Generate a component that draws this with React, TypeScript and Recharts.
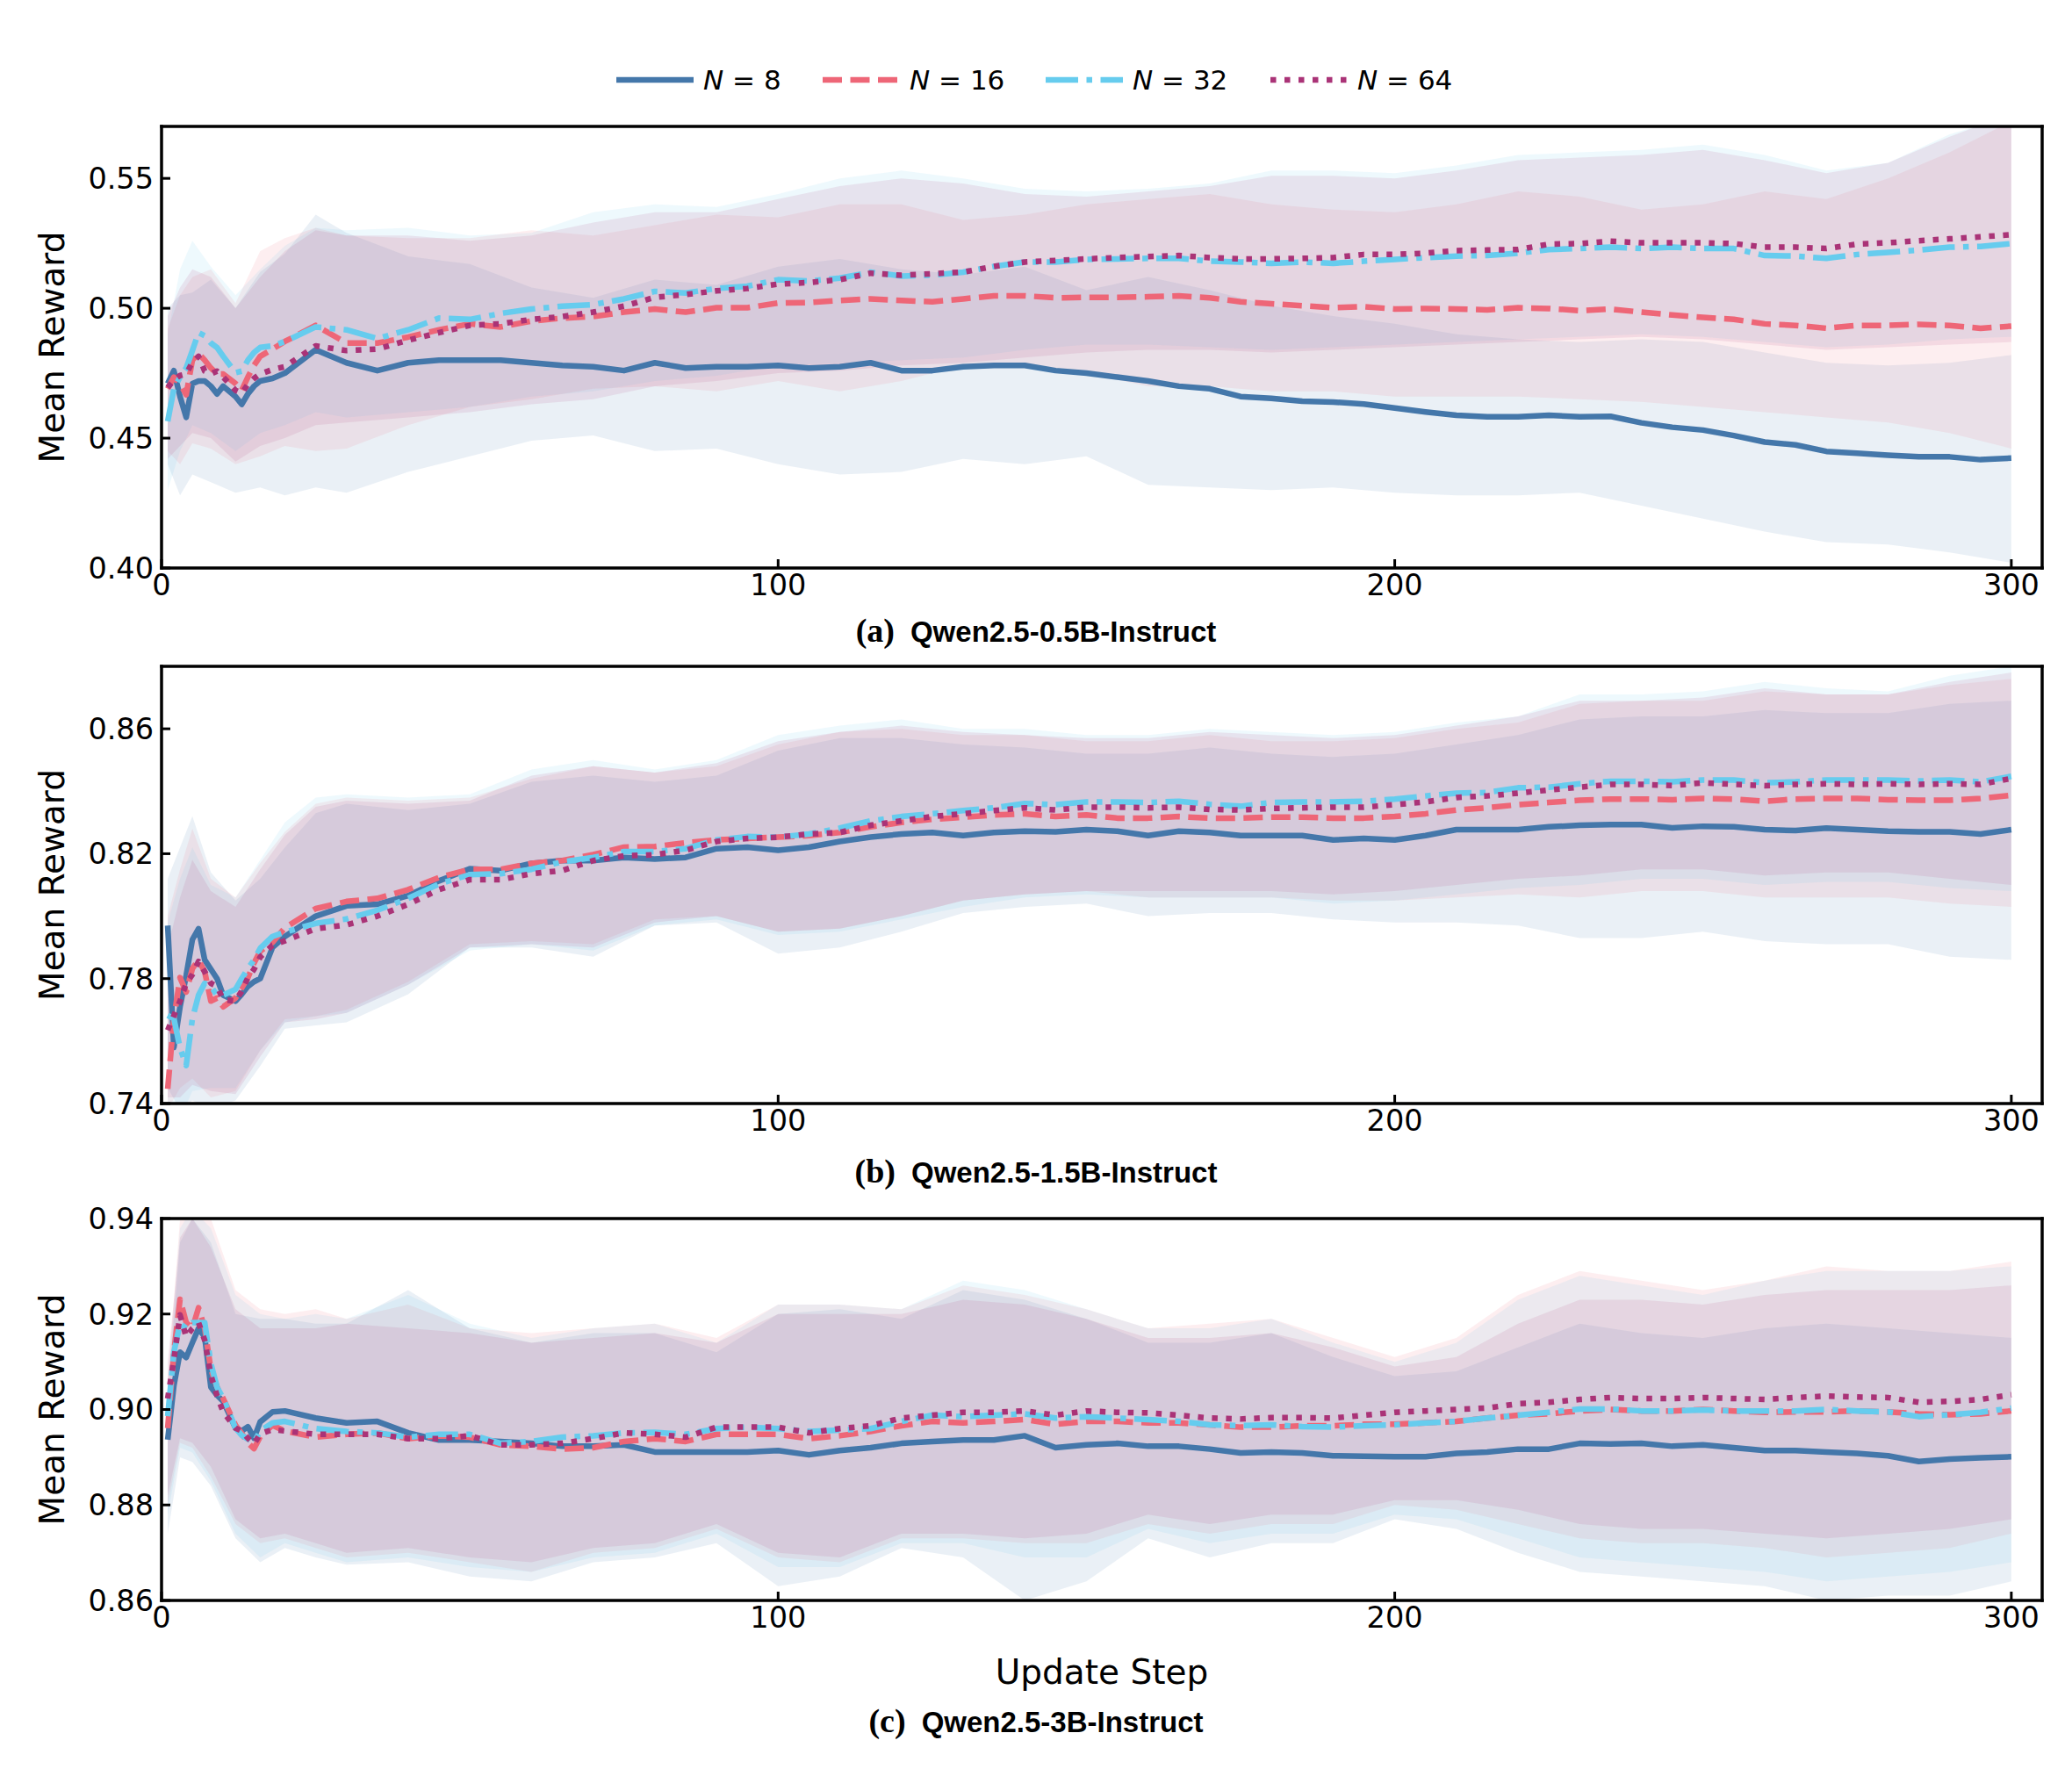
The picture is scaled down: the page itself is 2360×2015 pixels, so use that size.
import { ComposedChart, Line, Area, XAxis, YAxis } from 'recharts';

// update steps where the mean curves are sampled
const STEPS = [
  1, 2, 3, 4, 5, 6, 7, 8, 9, 10, 12, 13, 14, 15, 16, 18,
  20, 25, 30, 35, 40, 45, 50, 55, 60, 65, 70, 75, 80, 85, 90, 95, 100, 105, 110, 115,
  120, 125, 130, 135, 140, 145, 150, 155, 160, 165, 170, 175, 180, 185, 190, 195,
  200, 205, 210, 215, 220, 225, 230, 235, 240, 245, 250, 255, 260, 265, 270, 275,
  280, 285, 290, 295, 300,
];
// update steps where the shaded bands are sampled
const BAND_STEPS = [
  1, 3, 5, 8, 12, 16, 20, 25, 30,
  40, 50, 60, 70, 80, 90, 100, 110, 120, 130,
  140, 150, 160, 170, 180, 190, 200, 210, 220, 230,
  240, 250, 260, 270, 280, 290, 300,
];
const X_TICKS = [0, 100, 200, 300];
const LEGEND_LABELS = ['8', '16', '32', '64'];

// (a) Qwen2.5-0.5B-Instruct
const A_TICKS = [0.4, 0.45, 0.5, 0.55];
const A8 = [
  0.471, 0.476, 0.466, 0.458, 0.471, 0.472, 0.472, 0.470, 0.467, 0.470,
  0.466, 0.463, 0.467, 0.470, 0.472, 0.473,
  0.475, 0.484, 0.479, 0.476, 0.479, 0.480, 0.480, 0.480, 0.479, 0.478,
  0.4775, 0.476, 0.479, 0.477, 0.4775, 0.4775, 0.478, 0.477, 0.4775, 0.479,
  0.476, 0.476, 0.4775, 0.478, 0.478, 0.476, 0.475, 0.4735, 0.472, 0.470,
  0.469, 0.466, 0.4653, 0.4642, 0.4639, 0.4631, 0.4616, 0.4601, 0.4588, 0.4582,
  0.4582, 0.4588, 0.4582, 0.4584, 0.4559, 0.4542, 0.4531, 0.451, 0.4485, 0.4474,
  0.4449, 0.4442, 0.4434, 0.4428, 0.4428, 0.4417, 0.4423,
];
const A16 = [
  0.469, 0.4735, 0.471, 0.4667, 0.480, 0.4826, 0.480, 0.477, 0.4747, 0.4747,
  0.471, 0.4684, 0.4735, 0.478, 0.4815, 0.4843,
  0.4872, 0.4934, 0.4866, 0.4866, 0.4889, 0.4917, 0.494, 0.4928, 0.4951, 0.4962,
  0.4968, 0.4985, 0.4997, 0.4985, 0.5002, 0.5002, 0.502, 0.5022, 0.503, 0.5036,
  0.503, 0.5025, 0.5036, 0.5048, 0.5048, 0.504, 0.5042, 0.5042, 0.5044, 0.5048,
  0.504, 0.5025, 0.5017, 0.501, 0.5002, 0.5006, 0.4997, 0.4999, 0.4997, 0.4994,
  0.5002, 0.4999, 0.4991, 0.4997, 0.4985, 0.4974, 0.4965, 0.4957, 0.494, 0.4934,
  0.4923, 0.4934, 0.4934, 0.4938, 0.4934, 0.4923, 0.4931,
];
const A32 = [
  0.4565, 0.469, 0.4735, 0.477, 0.4837, 0.4906, 0.4894, 0.4866, 0.4849, 0.4815,
  0.4752, 0.4758, 0.480, 0.483, 0.4849, 0.4855,
  0.4872, 0.4928, 0.4917, 0.4883, 0.4917, 0.4962, 0.4957, 0.498, 0.4997, 0.5008,
  0.5014, 0.5036, 0.5065, 0.5059, 0.5076, 0.5085, 0.511, 0.5105, 0.5116, 0.5139,
  0.5124, 0.5127, 0.5139, 0.5161, 0.5178, 0.5178, 0.5188, 0.519, 0.5192, 0.5192,
  0.5181, 0.5178, 0.5173, 0.5178, 0.5173, 0.5181, 0.5188, 0.5195, 0.5201, 0.5203,
  0.5212, 0.5226, 0.523, 0.5235, 0.523, 0.5235, 0.523, 0.523, 0.5203, 0.5201,
  0.5192, 0.5207, 0.5215, 0.5224, 0.5235, 0.5238, 0.5249,
];
const A64 = [
  0.4695, 0.4724, 0.4741, 0.4747, 0.4792, 0.4815, 0.4758, 0.4747, 0.4758, 0.4735,
  0.4684, 0.4673, 0.4707, 0.473, 0.4747, 0.4764,
  0.4775, 0.4855, 0.4837, 0.4843, 0.4877, 0.4906, 0.4934, 0.494, 0.4957, 0.4968,
  0.4985, 0.5008, 0.5042, 0.5053, 0.5067, 0.5076, 0.5093, 0.5099, 0.511, 0.5135,
  0.5127, 0.5133, 0.5139, 0.5161, 0.5178, 0.5184, 0.519, 0.5195, 0.5199, 0.5203,
  0.5195, 0.519, 0.519, 0.5192, 0.5195, 0.5207, 0.5207, 0.5212, 0.5222, 0.5224,
  0.5226, 0.5247, 0.5249, 0.5258, 0.5252, 0.5252, 0.5252, 0.5249, 0.5235, 0.5235,
  0.523, 0.5247, 0.5252, 0.526, 0.5267, 0.5275, 0.5283,
];
const A8_LO = [
  0.440, 0.428, 0.436, 0.433, 0.429, 0.431, 0.428, 0.431, 0.429,
  0.437, 0.443, 0.449, 0.451, 0.445, 0.446, 0.440, 0.436, 0.437, 0.442,
  0.440, 0.443, 0.432, 0.431, 0.430, 0.431, 0.429, 0.428, 0.428, 0.429,
  0.424, 0.419, 0.414, 0.410, 0.409, 0.406, 0.402,
];
const A8_HI = [
  0.500, 0.505, 0.506, 0.511, 0.500, 0.514, 0.521, 0.536, 0.529,
  0.520, 0.517, 0.508, 0.504, 0.511, 0.509, 0.516, 0.519, 0.515, 0.513,
  0.516, 0.507, 0.512, 0.507, 0.501, 0.497, 0.494, 0.490, 0.488, 0.487,
  0.488, 0.487, 0.483, 0.479, 0.478, 0.479, 0.482,
];
const A16_LO = [
  0.445, 0.440, 0.448, 0.446, 0.440, 0.443, 0.447, 0.445, 0.446,
  0.455, 0.462, 0.465, 0.469, 0.470, 0.468, 0.472, 0.468, 0.472, 0.478,
  0.478, 0.475, 0.470, 0.470, 0.468, 0.468, 0.466, 0.466, 0.466, 0.465,
  0.464, 0.462, 0.460, 0.458, 0.456, 0.452, 0.446,
];
const A16_HI = [
  0.492, 0.505, 0.512, 0.515, 0.502, 0.522, 0.527, 0.531, 0.528,
  0.527, 0.527, 0.530, 0.528, 0.532, 0.536, 0.535, 0.540, 0.540, 0.534,
  0.536, 0.540, 0.542, 0.544, 0.540, 0.538, 0.537, 0.540, 0.545, 0.543,
  0.538, 0.540, 0.545, 0.542, 0.550, 0.560, 0.572,
];
const A32_LO = [
  0.430, 0.445, 0.455, 0.452, 0.445, 0.452, 0.455, 0.460, 0.458,
  0.460, 0.462, 0.466, 0.468, 0.472, 0.474, 0.478, 0.479, 0.480, 0.481,
  0.484, 0.486, 0.486, 0.485, 0.484, 0.485, 0.486, 0.487, 0.488, 0.489,
  0.490, 0.489, 0.487, 0.485, 0.486, 0.488, 0.489,
];
const A32_HI = [
  0.490, 0.515, 0.526, 0.516, 0.505, 0.515, 0.524, 0.531, 0.530,
  0.531, 0.528, 0.529, 0.537, 0.540, 0.539, 0.544, 0.550, 0.553, 0.550,
  0.546, 0.545, 0.546, 0.548, 0.553, 0.553, 0.552, 0.555, 0.559, 0.560,
  0.561, 0.563, 0.559, 0.553, 0.556, 0.567, 0.574,
];
const A64_LO = [
  0.442, 0.447, 0.452, 0.450, 0.441, 0.447, 0.450, 0.455, 0.456,
  0.458, 0.460, 0.463, 0.465, 0.470, 0.472, 0.475, 0.476, 0.478, 0.479,
  0.481, 0.483, 0.484, 0.484, 0.483, 0.484, 0.485, 0.486, 0.487, 0.488,
  0.489, 0.488, 0.486, 0.484, 0.485, 0.486, 0.487,
];
const A64_HI = [
  0.497, 0.508, 0.515, 0.512, 0.500, 0.512, 0.522, 0.530, 0.528,
  0.528, 0.526, 0.528, 0.533, 0.537, 0.537, 0.542, 0.547, 0.550, 0.548,
  0.544, 0.543, 0.545, 0.547, 0.551, 0.551, 0.550, 0.553, 0.557, 0.558,
  0.559, 0.561, 0.557, 0.552, 0.556, 0.566, 0.575,
];

// (b) Qwen2.5-1.5B-Instruct
const B_TICKS = [0.74, 0.78, 0.82, 0.86];
const B8 = [
  0.797, 0.758, 0.771, 0.781, 0.7925, 0.796, 0.786, 0.783, 0.780, 0.7747,
  0.7728, 0.775, 0.7775, 0.779, 0.780, 0.790,
  0.7935, 0.800, 0.8033, 0.8038, 0.8066, 0.8113, 0.8152, 0.8146, 0.8169, 0.8178,
  0.8178, 0.8188, 0.8183, 0.8188, 0.8216, 0.8221, 0.8211, 0.8221, 0.8239, 0.8253,
  0.8263, 0.8268, 0.8258, 0.8268, 0.8272, 0.827, 0.8277, 0.8272, 0.8258, 0.8272,
  0.8268, 0.8258, 0.8258, 0.8258, 0.8244, 0.8249, 0.8244, 0.8258, 0.8277, 0.8277,
  0.8277, 0.8286, 0.8291, 0.8293, 0.8293, 0.8283, 0.8288, 0.8286, 0.8277, 0.8274,
  0.8282, 0.8277, 0.8272, 0.827, 0.827, 0.8263, 0.8277,
];
const B16 = [
  0.7447, 0.7672, 0.7803, 0.7757, 0.7832, 0.786, 0.7822, 0.7728, 0.7738, 0.771,
  0.7738, 0.777, 0.7803, 0.785, 0.7888, 0.7916,
  0.7963, 0.8024, 0.8047, 0.8057, 0.8085, 0.8124, 0.815, 0.815, 0.8169, 0.8178,
  0.8197, 0.8221, 0.8223, 0.8235, 0.8244, 0.8249, 0.8253, 0.8258, 0.8268, 0.8286,
  0.830, 0.831, 0.8317, 0.8324, 0.8328, 0.8319, 0.8324, 0.8314, 0.8314, 0.8319,
  0.8314, 0.8314, 0.8317, 0.8317, 0.8314, 0.8314, 0.8319, 0.8328, 0.834, 0.8347,
  0.8357, 0.8364, 0.8371, 0.8375, 0.8375, 0.8373, 0.8377, 0.8375, 0.8368, 0.8375,
  0.8377, 0.8377, 0.8373, 0.8371, 0.8371, 0.8377, 0.8387,
];
const B32 = [
  0.7682, 0.7672, 0.7578, 0.7522, 0.7672, 0.7747, 0.7785, 0.7775, 0.7747, 0.7747,
  0.7766, 0.780, 0.7832, 0.786, 0.7897, 0.7935,
  0.7949, 0.7977, 0.7991, 0.8019, 0.8057, 0.8103, 0.8133, 0.8136, 0.815, 0.8174,
  0.8188, 0.8207, 0.8207, 0.8216, 0.8244, 0.8255, 0.8253, 0.8263, 0.8282, 0.8305,
  0.8319, 0.8328, 0.8338, 0.8347, 0.8361, 0.8357, 0.8366, 0.8366, 0.8364, 0.8368,
  0.8358, 0.8352, 0.8364, 0.8366, 0.8366, 0.8368, 0.8375, 0.8385, 0.8394, 0.8396,
  0.8411, 0.8413, 0.8424, 0.8432, 0.8432, 0.843, 0.8436, 0.8436, 0.8427, 0.843,
  0.8436, 0.8436, 0.8436, 0.8433, 0.8436, 0.843, 0.8448,
];
const B64 = [
  0.7635, 0.7682, 0.7728, 0.7785, 0.7813, 0.7855, 0.7822, 0.7785, 0.7775, 0.7733,
  0.7728, 0.776, 0.7803, 0.783, 0.7869, 0.7907,
  0.7921, 0.796, 0.7972, 0.800, 0.8038, 0.8085, 0.8117, 0.8117, 0.8136, 0.8146,
  0.8178, 0.8193, 0.8197, 0.8211, 0.8239, 0.8249, 0.8253, 0.8263, 0.8268, 0.8291,
  0.8305, 0.8319, 0.8328, 0.8338, 0.8347, 0.834, 0.8349, 0.8349, 0.8347, 0.8349,
  0.8342, 0.834, 0.8345, 0.8347, 0.8349, 0.8349, 0.8357, 0.8366, 0.838, 0.8385,
  0.8394, 0.8404, 0.8413, 0.8422, 0.8422, 0.8418, 0.8427, 0.8422, 0.8418, 0.8422,
  0.8424, 0.8422, 0.8424, 0.8422, 0.8424, 0.8422, 0.8441,
];
const B8_LO = [
  0.745, 0.738, 0.741, 0.738, 0.741, 0.752, 0.764, 0.765, 0.766,
  0.775, 0.790, 0.790, 0.787, 0.797, 0.798, 0.788, 0.790, 0.795, 0.801,
  0.803, 0.804, 0.800, 0.801, 0.801, 0.799, 0.798, 0.798, 0.797, 0.793,
  0.793, 0.795, 0.792, 0.791, 0.791, 0.787, 0.786,
];
const B8_HI = [
  0.812, 0.822, 0.832, 0.814, 0.805, 0.812, 0.822, 0.833, 0.836,
  0.834, 0.836, 0.843, 0.845, 0.843, 0.845, 0.853, 0.857, 0.857, 0.855,
  0.854, 0.852, 0.852, 0.854, 0.852, 0.851, 0.852, 0.855, 0.858, 0.863,
  0.864, 0.864, 0.866, 0.865, 0.865, 0.868, 0.869,
];
const B16_LO = [
  0.738, 0.745, 0.748, 0.742, 0.744, 0.757, 0.767, 0.768, 0.770,
  0.779, 0.791, 0.792, 0.791, 0.799, 0.800, 0.795, 0.796, 0.800, 0.805,
  0.807, 0.808, 0.806, 0.806, 0.806, 0.805, 0.805, 0.806, 0.807, 0.806,
  0.808, 0.808, 0.806, 0.806, 0.806, 0.804, 0.803,
];
const B16_HI = [
  0.800, 0.815, 0.828, 0.812, 0.806, 0.817, 0.827, 0.836, 0.838,
  0.837, 0.838, 0.844, 0.848, 0.846, 0.848, 0.855, 0.859, 0.860, 0.858,
  0.858, 0.856, 0.856, 0.858, 0.856, 0.856, 0.857, 0.860, 0.862, 0.868,
  0.869, 0.869, 0.872, 0.871, 0.871, 0.874, 0.876,
];
const B32_LO = [
  0.740, 0.735, 0.744, 0.745, 0.745, 0.757, 0.766, 0.768, 0.769,
  0.778, 0.789, 0.791, 0.789, 0.797, 0.799, 0.794, 0.795, 0.799, 0.803,
  0.806, 0.807, 0.806, 0.806, 0.806, 0.804, 0.805, 0.807, 0.809, 0.810,
  0.812, 0.812, 0.810, 0.811, 0.811, 0.809, 0.808,
];
const B32_HI = [
  0.798, 0.812, 0.822, 0.810, 0.806, 0.818, 0.830, 0.838, 0.839,
  0.838, 0.839, 0.847, 0.850, 0.847, 0.850, 0.858, 0.861, 0.863, 0.860,
  0.860, 0.858, 0.858, 0.860, 0.859, 0.858, 0.859, 0.862, 0.864, 0.871,
  0.871, 0.872, 0.875, 0.873, 0.872, 0.877, 0.880,
];
const B64_LO = [
  0.742, 0.742, 0.746, 0.744, 0.743, 0.755, 0.766, 0.767, 0.769,
  0.778, 0.790, 0.791, 0.790, 0.798, 0.800, 0.795, 0.796, 0.800, 0.805,
  0.807, 0.808, 0.808, 0.808, 0.808, 0.807, 0.808, 0.810, 0.812, 0.813,
  0.815, 0.815, 0.813, 0.814, 0.814, 0.812, 0.810,
];
const B64_HI = [
  0.790, 0.806, 0.818, 0.808, 0.803, 0.815, 0.826, 0.835, 0.837,
  0.836, 0.837, 0.845, 0.848, 0.846, 0.849, 0.856, 0.859, 0.861, 0.859,
  0.858, 0.857, 0.857, 0.859, 0.858, 0.857, 0.858, 0.861, 0.864, 0.869,
  0.869, 0.870, 0.873, 0.871, 0.871, 0.875, 0.878,
];

// (c) Qwen2.5-3B-Instruct
const C_TICKS = [0.86, 0.88, 0.9, 0.92, 0.94];
const C8 = [
  0.8937, 0.905, 0.912, 0.9109, 0.914, 0.917, 0.9152, 0.9047, 0.903, 0.9017,
  0.8961, 0.8955, 0.8964, 0.894, 0.8974, 0.8995,
  0.8997, 0.8982, 0.8972, 0.8975, 0.8951, 0.8936, 0.8936, 0.8933, 0.8929, 0.8923,
  0.8923, 0.8926, 0.8911, 0.8911, 0.8911, 0.8911, 0.8914, 0.8905, 0.8914, 0.892,
  0.8929, 0.8933, 0.8936, 0.8936, 0.8945, 0.892, 0.8926, 0.8929, 0.8923, 0.8923,
  0.8917, 0.8909, 0.8911, 0.8909, 0.8903, 0.8902, 0.8901, 0.8901, 0.8908, 0.8911,
  0.8917, 0.8917, 0.8929, 0.8928, 0.8929, 0.8923, 0.8926, 0.892, 0.8914, 0.8914,
  0.8911, 0.8908, 0.8903, 0.8891, 0.8896, 0.8899, 0.8901,
];
const C16 = [
  0.8961, 0.912, 0.9231, 0.9182, 0.917, 0.9213, 0.917, 0.9084, 0.9047, 0.9023,
  0.8967, 0.895, 0.893, 0.8918, 0.8943, 0.8967,
  0.8955, 0.8942, 0.8948, 0.8951, 0.8939, 0.8945, 0.8942, 0.8926, 0.8923, 0.8917,
  0.892, 0.8933, 0.8939, 0.8933, 0.8948, 0.8948, 0.8948, 0.8939, 0.8945, 0.8954,
  0.8966, 0.8975, 0.8972, 0.8975, 0.8979, 0.8969, 0.8975, 0.8975, 0.8972, 0.8972,
  0.8968, 0.8963, 0.8963, 0.8966, 0.8966, 0.8969, 0.8969, 0.8972, 0.8975, 0.8982,
  0.8988, 0.8991, 0.8997, 0.900, 0.8997, 0.8997, 0.900, 0.8997, 0.8994, 0.8995,
  0.8995, 0.8997, 0.8995, 0.8991, 0.8989, 0.8991, 0.8997,
];
const C32 = [
  0.8986, 0.912, 0.918, 0.917, 0.9182, 0.9182, 0.9182, 0.9096, 0.9047, 0.9023,
  0.8961, 0.8946, 0.8938, 0.8931, 0.8955, 0.8972,
  0.8975, 0.896, 0.8954, 0.8951, 0.8942, 0.8948, 0.8948, 0.8929, 0.8933, 0.8942,
  0.8945, 0.8951, 0.8952, 0.8948, 0.896, 0.8963, 0.896, 0.8954, 0.8957, 0.896,
  0.8975, 0.8988, 0.8985, 0.8988, 0.8991, 0.8982, 0.8985, 0.8982, 0.8979, 0.8975,
  0.8968, 0.8966, 0.8968, 0.8964, 0.8963, 0.8966, 0.8968, 0.8972, 0.8975, 0.8982,
  0.8988, 0.8994, 0.9001, 0.9001, 0.8997, 0.8997, 0.8999, 0.8997, 0.8997, 0.8997,
  0.900, 0.8997, 0.8995, 0.8985, 0.8989, 0.8994, 0.9003,
];
const C64 = [
  0.9023, 0.9105, 0.9198, 0.9152, 0.917, 0.9182, 0.9145, 0.9072, 0.9029, 0.8995,
  0.8961, 0.8955, 0.894, 0.8928, 0.8949, 0.8958,
  0.8955, 0.8948, 0.8948, 0.8948, 0.8939, 0.8939, 0.8945, 0.8926, 0.8926, 0.8929,
  0.8939, 0.8951, 0.8948, 0.8942, 0.8963, 0.8963, 0.8963, 0.8951, 0.896, 0.8966,
  0.8982, 0.8988, 0.8994, 0.8994, 0.8997, 0.8988, 0.8997, 0.8994, 0.8993, 0.8988,
  0.8982, 0.898, 0.8983, 0.8983, 0.8982, 0.8988, 0.8994, 0.8997, 0.900, 0.9003,
  0.9012, 0.9015, 0.9021, 0.9025, 0.9023, 0.9023, 0.9025, 0.9023, 0.9021, 0.9025,
  0.9028, 0.9026, 0.9025, 0.9015, 0.9017, 0.9021, 0.9031,
];
const C8_LO = [
  0.874, 0.890, 0.889, 0.884, 0.873, 0.868, 0.871, 0.869, 0.8675,
  0.868, 0.865, 0.864, 0.868, 0.869, 0.872, 0.863, 0.865, 0.871, 0.869,
  0.860, 0.864, 0.873, 0.869, 0.872, 0.872, 0.877, 0.875, 0.870, 0.866,
  0.865, 0.864, 0.863, 0.860, 0.861, 0.861, 0.864,
];
const C8_HI = [
  0.903, 0.935, 0.940, 0.935, 0.920, 0.919, 0.919, 0.918, 0.918,
  0.925, 0.917, 0.914, 0.916, 0.916, 0.912, 0.920, 0.921, 0.919, 0.925,
  0.923, 0.919, 0.914, 0.914, 0.916, 0.911, 0.907, 0.908, 0.913, 0.918,
  0.916, 0.915, 0.917, 0.918, 0.917, 0.916, 0.915,
];
const C16_LO = [
  0.880, 0.893, 0.892, 0.886, 0.876, 0.872, 0.873, 0.871, 0.869,
  0.870, 0.868, 0.866, 0.870, 0.871, 0.875, 0.869, 0.868, 0.873, 0.873,
  0.872, 0.872, 0.876, 0.874, 0.876, 0.876, 0.880, 0.879, 0.876, 0.873,
  0.872, 0.872, 0.871, 0.869, 0.870, 0.871, 0.874,
];
const C16_HI = [
  0.906, 0.940, 0.942, 0.940, 0.925, 0.921, 0.920, 0.921, 0.919,
  0.922, 0.917, 0.916, 0.917, 0.918, 0.915, 0.922, 0.922, 0.921, 0.926,
  0.924, 0.921, 0.917, 0.918, 0.919, 0.915, 0.911, 0.915, 0.924, 0.929,
  0.927, 0.925, 0.927, 0.930, 0.929, 0.929, 0.931,
];
const C32_LO = [
  0.878, 0.892, 0.891, 0.885, 0.874, 0.869, 0.872, 0.870, 0.868,
  0.869, 0.867, 0.866, 0.869, 0.870, 0.874, 0.867, 0.867, 0.872, 0.872,
  0.869, 0.869, 0.875, 0.872, 0.874, 0.874, 0.878, 0.877, 0.873, 0.869,
  0.868, 0.867, 0.866, 0.864, 0.865, 0.866, 0.868,
];
const C32_HI = [
  0.905, 0.938, 0.942, 0.938, 0.924, 0.920, 0.919, 0.920, 0.919,
  0.924, 0.918, 0.915, 0.917, 0.918, 0.914, 0.922, 0.922, 0.921, 0.927,
  0.925, 0.921, 0.917, 0.917, 0.919, 0.914, 0.910, 0.914, 0.923, 0.928,
  0.926, 0.924, 0.927, 0.929, 0.929, 0.929, 0.930,
];
const C64_LO = [
  0.882, 0.894, 0.893, 0.888, 0.877, 0.873, 0.874, 0.872, 0.870,
  0.871, 0.869, 0.868, 0.871, 0.872, 0.876, 0.870, 0.869, 0.874, 0.874,
  0.873, 0.874, 0.878, 0.876, 0.878, 0.878, 0.881, 0.881, 0.879, 0.876,
  0.875, 0.875, 0.874, 0.873, 0.874, 0.875, 0.877,
];
const C64_HI = [
  0.910, 0.936, 0.940, 0.934, 0.921, 0.917, 0.917, 0.917, 0.918,
  0.917, 0.916, 0.914, 0.915, 0.916, 0.914, 0.920, 0.920, 0.920, 0.923,
  0.922, 0.919, 0.915, 0.915, 0.916, 0.913, 0.909, 0.911, 0.918, 0.923,
  0.923, 0.922, 0.924, 0.925, 0.925, 0.925, 0.926,
];

const KEYS = ['n8', 'n16', 'n32', 'n64'];
const COLORS = ['#4477AA', '#EE6677', '#66CCEE', '#AA3377'];
const DASHES = [undefined, '22 9.5', '37 9.5 6.5 9.5', '6.5 9.5'];
const LW = 6.5;

const PANELS = [
  {
    lines: [A8, A16, A32, A64],
    bands: [[A8_LO, A8_HI], [A16_LO, A16_HI], [A32_LO, A32_HI], [A64_LO, A64_HI]],
    domain: [0.4, 0.57], ticks: A_TICKS, top: 144, bottom: 647,
    tag: '(a)', title: 'Qwen2.5-0.5B-Instruct', captionY: 731,
  },
  {
    lines: [B8, B16, B32, B64],
    bands: [[B8_LO, B8_HI], [B16_LO, B16_HI], [B32_LO, B32_HI], [B64_LO, B64_HI]],
    domain: [0.74, 0.88], ticks: B_TICKS, top: 759, bottom: 1257,
    tag: '(b)', title: 'Qwen2.5-1.5B-Instruct', captionY: 1347,
  },
  {
    lines: [C8, C16, C32, C64],
    bands: [[C8_LO, C8_HI], [C16_LO, C16_HI], [C32_LO, C32_HI], [C64_LO, C64_HI]],
    domain: [0.86, 0.94], ticks: C_TICKS, top: 1388, bottom: 1823,
    tag: '(c)', title: 'Qwen2.5-3B-Instruct', captionY: 1973,
  },
];

const FONT = 'DejaVu Sans';
const AXIS_LINE = { stroke: '#000', strokeWidth: 3.5, strokeLinecap: 'square' };
const TICK_LINE = { stroke: '#000', strokeWidth: 3 };
const TICK_TEXT = { fill: '#000', fontSize: 33.5, fontFamily: FONT };

function buildRows(lines: number[][], bands: number[][][]) {
  return STEPS.map((step, i) => {
    const row: Record<string, any> = { step };
    const j = BAND_STEPS.indexOf(step);
    KEYS.forEach((key, s) => {
      row[key] = lines[s][i];
      if (j >= 0) row['band_' + key] = [bands[s][0][j], bands[s][1][j]];
    });
    return row;
  });
}

function Panel({ cfg }: { cfg: any }) {
  const rows = buildRows(cfg.lines, cfg.bands);
  const plotH = cfg.bottom - cfg.top;
  return (
    <div style={{ position: 'absolute', left: 0, top: cfg.top - 20 }}>
      <ComposedChart
        width={2360}
        height={plotH + 80}
        data={rows}
        margin={{ top: 19, right: 33, bottom: 0, left: 0 }}
      >
        <XAxis
          dataKey="step" type="number" domain={[0, 305]} ticks={X_TICKS} interval={0}
          allowDataOverflow height={60} axisLine={AXIS_LINE} tickLine={TICK_LINE}
          tickSize={-10} tickMargin={17} tick={TICK_TEXT}
        />
        <XAxis
          xAxisId="top" orientation="top" dataKey="step" type="number" domain={[0, 305]}
          ticks={X_TICKS} interval={0} allowDataOverflow height={1} axisLine={AXIS_LINE}
          tickLine={TICK_LINE} tickSize={-10} tick={false}
        />
        <YAxis
          type="number" domain={cfg.domain} ticks={cfg.ticks} interval={0} allowDataOverflow
          width={184} axisLine={AXIS_LINE} tickLine={TICK_LINE} tickSize={-10} tickMargin={19}
          tick={TICK_TEXT} tickFormatter={(v: number) => v.toFixed(2)}
        />
        <YAxis
          yAxisId="right" orientation="right" type="number" domain={cfg.domain} ticks={cfg.ticks}
          interval={0} allowDataOverflow width={1} axisLine={AXIS_LINE} tickLine={TICK_LINE}
          tickSize={-10} tick={false}
        />
        {KEYS.map((key, s) => (
          <Area
            key={'band_' + key}
            dataKey={'band_' + key}
            type="linear"
            stroke="none"
            fill={COLORS[s]}
            fillOpacity={0.11}
            connectNulls
            dot={false}
            activeDot={false}
            isAnimationActive={false}
          />
        ))}
        {KEYS.map((key, s) => (
          <Line
            key={key}
            dataKey={key}
            type="linear"
            stroke={COLORS[s]}
            strokeWidth={LW}
            strokeDasharray={DASHES[s]}
            strokeLinejoin="round"
            dot={false}
            activeDot={false}
            connectNulls
            isAnimationActive={false}
          />
        ))}
      </ComposedChart>
    </div>
  );
}

function Overlay() {
  const legendX = [702, 937, 1191, 1447];
  return (
    <svg
      width={2360}
      height={2015}
      style={{ position: 'absolute', left: 0, top: 0, pointerEvents: 'none' }}
    >
      {LEGEND_LABELS.map((lab, s) => (
        <g key={lab}>
          <line
            x1={legendX[s]} x2={legendX[s] + 88} y1={91} y2={91}
            stroke={COLORS[s]} strokeWidth={LW} strokeDasharray={DASHES[s]}
          />
          <text x={legendX[s] + 99} y={102} fontFamily={FONT} fontSize={31} fill="#000">
            <tspan fontStyle="italic">N</tspan> = {lab}
          </text>
        </g>
      ))}
      {PANELS.map((p) => (
        <g key={p.tag}>
          <text
            x={73} y={(p.top + p.bottom) / 2} transform={`rotate(-90 73 ${(p.top + p.bottom) / 2})`}
            textAnchor="middle" fontFamily={FONT} fontSize={39} fill="#000"
          >
            Mean Reward
          </text>
          <text x={1180} y={p.captionY} textAnchor="middle" fill="#000" fontWeight="bold">
            <tspan fontFamily="Liberation Serif" fontSize={38}>{p.tag}</tspan>
            <tspan dx={18} fontFamily="Liberation Sans" fontSize={33}>{p.title}</tspan>
          </text>
        </g>
      ))}
      <text x={1255} y={1918} textAnchor="middle" fontFamily={FONT} fontSize={39} fill="#000">
        Update Step
      </text>
    </svg>
  );
}

export default function App() {
  return (
    <div style={{ position: 'absolute', left: 0, top: 0, width: 2360, height: 2015, background: '#fff' }}>
      {PANELS.map((p) => (
        <Panel key={p.tag} cfg={p} />
      ))}
      <Overlay />
    </div>
  );
}
